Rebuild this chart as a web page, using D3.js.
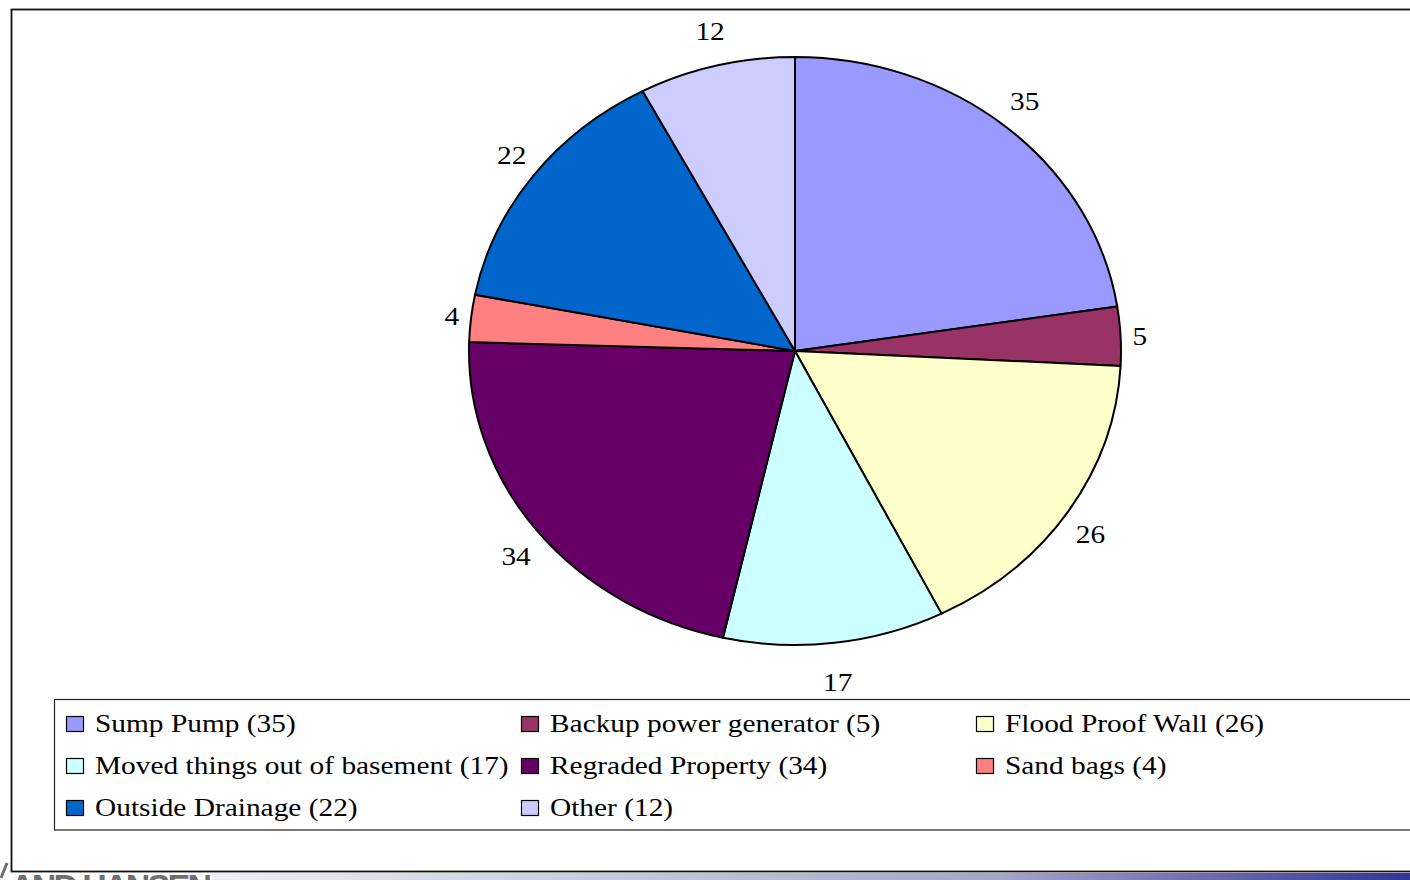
<!DOCTYPE html>
<html>
<head>
<meta charset="utf-8">
<script src="https://cdn.jsdelivr.net/npm/d3@7"></script>
<style>
  html, body { margin: 0; padding: 0; background: #fff; overflow: hidden; }
  text { font-family: "Liberation Serif", "Times New Roman", serif; }
</style>
</head>
<body>
<div id="chart"></div>
<script>
// data
const categories = [
  "Sump Pump", "Backup power generator", "Flood Proof Wall",
  "Moved things out of basement", "Regraded Property", "Sand bags",
  "Outside Drainage", "Other"
];
const counts = [35, 5, 26, 17, 34, 4, 22, 12];
const colors = ["#9999FF", "#993366", "#FFFFCC", "#CCFFFF", "#660066", "#FF8080", "#0066CC", "#CCCCFF"];

const width = 1410, height = 880;
const cx = 795, cy = 351;
const rx = 326, ry = 294;   // the pie is drawn stretched sideways
const stretch = 1.13;       // text is stretched too
const fontSize = 26;

const svg = d3.select('#chart').append('svg')
  .attr('width', width)
  .attr('height', height);

// outer frame
svg.append('rect')
  .attr('x', 11.5).attr('y', 9.5)
  .attr('width', width + 20).attr('height', 862)
  .attr('fill', '#fff')
  .attr('stroke', '#111')
  .attr('stroke-width', 1.8);

const slices = d3.pie().sort(null).value(d => d)(counts);

const arc = d3.arc().innerRadius(0).outerRadius(ry);

svg.append('g')
  .attr('transform', `translate(${cx},${cy}) scale(${rx / ry},1)`)
  .selectAll('path')
  .data(slices)
  .enter()
  .append('path')
  .attr('d', arc)
  .attr('fill', (d, i) => colors[i])
  .attr('stroke', '#000')
  .attr('stroke-width', 2)
  .attr('vector-effect', 'non-scaling-stroke')
  .attr('stroke-linejoin', 'round');

// value labels just outside the rim
const labels = svg.append('g').selectAll('text')
  .data(slices)
  .enter()
  .append('text')
  .attr('font-size', fontSize)
  .attr('text-anchor', 'middle')
  .attr('dominant-baseline', 'central')
  .attr('fill', '#000')
  .text(d => d.value);

labels.attr('transform', function (d) {
  const a = (d.startAngle + d.endAngle) / 2;
  const w = this.getComputedTextLength() * stretch;
  const x = cx + (rx + 12 + w / 2) * Math.sin(a);
  const y = cy - (ry + 38) * Math.cos(a) + 2;
  return `translate(${x},${y}) scale(${stretch},1)`;
});

// legend
const legend = svg.append('g');
legend.append('rect')
  .attr('x', 54.5).attr('y', 699.5)
  .attr('width', width).attr('height', 130.5)
  .attr('fill', '#fff')
  .attr('stroke', '#222')
  .attr('stroke-width', 1.2);

const colX = [66, 521, 976];
const rowY = [724, 766, 808];

const items = legend.selectAll('g.item')
  .data(categories)
  .enter()
  .append('g')
  .attr('class', 'item')
  .attr('transform', (d, i) => `translate(${colX[i % 3]},${rowY[Math.floor(i / 3)]})`);

items.append('rect')
  .attr('x', 0.5).attr('y', -7.5)
  .attr('width', 17).attr('height', 15)
  .attr('fill', (d, i) => colors[i])
  .attr('stroke', '#000')
  .attr('stroke-width', 1.2);

items.append('text')
  .attr('transform', `translate(29,8) scale(${stretch},1)`)
  .attr('font-size', fontSize)
  .attr('fill', '#000')
  .text((d, i) => `${d} (${counts[i]})`);

// footer: logo remnant and gradient strip
const defs = svg.append('defs');
const grad = defs.append('linearGradient').attr('id', 'strip');
grad.append('stop').attr('offset', '0%').attr('stop-color', '#eeeef3');
grad.append('stop').attr('offset', '66%').attr('stop-color', '#a2a5c9');
grad.append('stop').attr('offset', '100%').attr('stop-color', '#333399');

svg.append('rect')
  .attr('x', 212).attr('y', 873)
  .attr('width', width - 212).attr('height', 7)
  .attr('fill', 'url(#strip)');

defs.append('clipPath').attr('id', 'logoClip')
  .append('rect').attr('x', 0).attr('y', 873).attr('width', 212).attr('height', 7);

svg.append('text')
  .attr('clip-path', 'url(#logoClip)')
  .attr('x', 10).attr('y', 898)
  .style('font-family', '"Liberation Sans", Arial, sans-serif')
  .attr('font-weight', 'bold')
  .attr('font-size', 34)
  .attr('fill', '#6f6f6f')
  .attr('textLength', 202)
  .text('AND HANSEN');

svg.append('line')
  .attr('x1', 1).attr('y1', 878).attr('x2', 7).attr('y2', 863)
  .attr('stroke', '#6f6f6f')
  .attr('stroke-width', 3);
</script>
</body>
</html>
